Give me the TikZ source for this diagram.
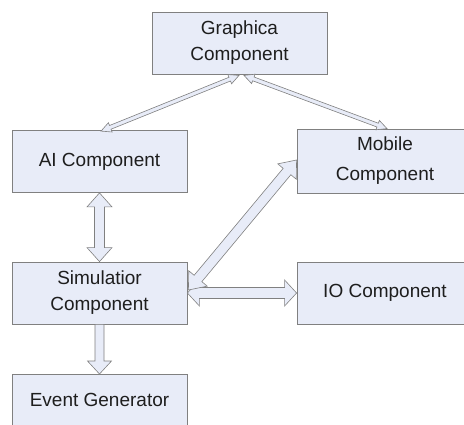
\documentclass[tikz,border=0pt]{standalone}
\usepackage{fontspec}
\setmainfont{Liberation Sans}
\usetikzlibrary{calc}
\definecolor{boxfill}{RGB}{232,236,248}
\definecolor{boxline}{RGB}{128,128,128}
\definecolor{txt}{RGB}{30,30,30}
\newcommand\dblarr[5]{%
  \coordinate (pa) at ($(#1)!#5!(#2)$);
  \coordinate (pb) at ($(#2)!#5!(#1)$);
  \filldraw[arr] (#1) -- ($(pa)!#4!90:(#2)$) -- ($(pa)!#3!90:(#2)$)
    -- ($(pb)!#3!-90:(#1)$) -- ($(pb)!#4!-90:(#1)$) -- (#2)
    -- ($(pb)!#4!90:(#1)$) -- ($(pb)!#3!90:(#1)$)
    -- ($(pa)!#3!-90:(#2)$) -- ($(pa)!#4!-90:(#2)$) -- cycle;}
\newcommand\sglarr[5]{%
  \coordinate (pb) at ($(#2)!#5!(#1)$);
  \filldraw[arr] ($(#1)!#3!90:(#2)$) -- ($(pb)!#3!-90:(#1)$) -- ($(pb)!#4!-90:(#1)$)
    -- (#2) -- ($(pb)!#4!90:(#1)$) -- ($(pb)!#3!90:(#1)$)
    -- ($(#1)!#3!-90:(#2)$) -- cycle;}
\begin{document}
\begin{tikzpicture}[x=1pt,y=-1pt,
  box/.style={draw=boxline,fill=boxfill,line width=0.8pt,minimum width=175pt,
    minimum height=62pt,inner sep=0pt,align=center,text=txt,
    font=\fontsize{19pt}{26pt}\selectfont},
  arr/.style={draw=boxline,fill=boxfill,line width=0.6pt,line join=miter}]
\useasboundingbox (0,0) rectangle (464,424);
\clip (0,0) rectangle (464,424);
\node[box] (g) at (239.5,43) {Graphica\\Component};
\node[box] (ai) at (99.5,161.5) {AI Component};
\node[box,minimum width=176pt,minimum height=64pt,
  font=\fontsize{19pt}{30pt}\selectfont] (mob) at (385,161) {Mobile\\Component};
\node[box] (sim) at (99.5,293) {Simulatior\\Component};
\node[box,minimum width=176pt] (io) at (385,293) {IO Component};
\node[box,anchor=north,minimum height=0pt,text height=32pt,text depth=30pt] (ev) at (99.5,374) {Event Generator};
% thin arrows from graphics component
\coordinate (g1) at ($(g.south)+(-0.5,1)$);
\coordinate (g2) at ($(g.south)+(4.5,1)$);
\coordinate (a1) at ($(ai.north)+(1.5,1)$);
\coordinate (m1) at ($(mob.north)+(2,0)$);
\dblarr{g1}{a1}{2pt}{5pt}{10pt}
\dblarr{g2}{m1}{2pt}{5pt}{10pt}
% fat arrows
\dblarr{ai.south}{sim.north}{5pt}{12.5pt}{14pt}
\sglarr{sim.south}{ev.north}{4.5pt}{12pt}{13pt}
\dblarr{sim.east}{io.west}{5.5pt}{13pt}{12pt}
\coordinate (s1) at ($(sim.east)+(1,-3)$);
\coordinate (m2) at ($(mob.west)+(0,-1)$);
\dblarr{s1}{m2}{5pt}{12pt}{15pt}
\end{tikzpicture}
\end{document}
